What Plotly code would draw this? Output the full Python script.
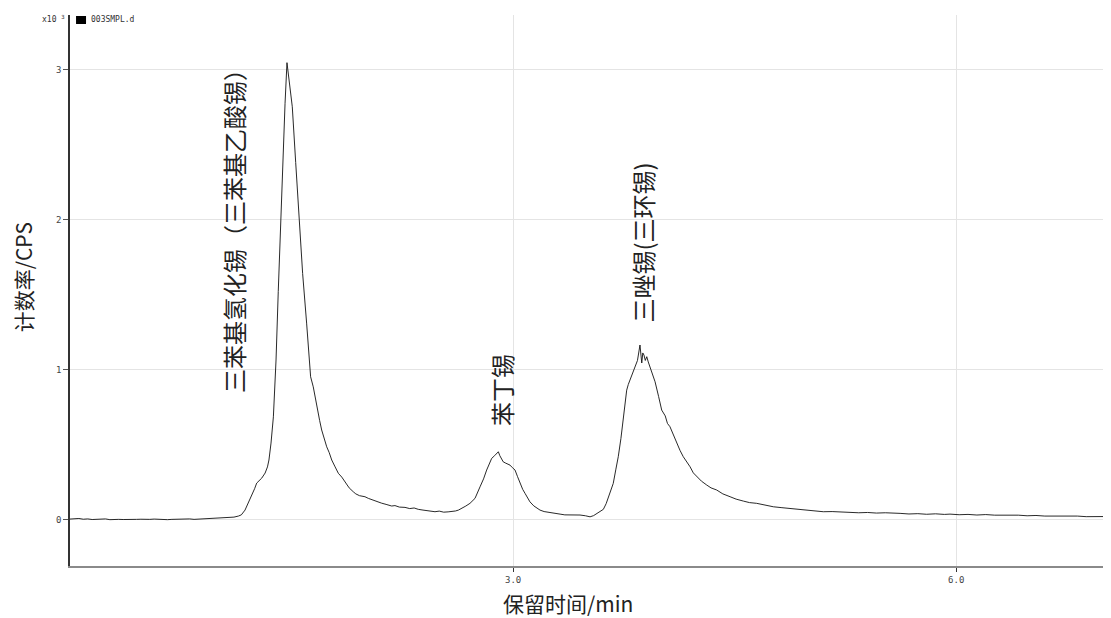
import plotly.graph_objects as go

# Retention time (min) and count rate (CPS)
time_min = [
    0.00, 0.03, 0.06, 0.09, 0.12, 0.15, 0.18, 0.21, 0.24, 0.27, 0.30, 0.33, 0.36, 0.39, 0.42,
    0.45, 0.48, 0.51, 0.54, 0.57, 0.60, 0.63, 0.66, 0.69, 0.72, 0.75, 0.78, 0.81, 0.84, 0.87,
    0.90, 0.93, 0.96, 0.99, 1.02, 1.05, 1.08, 1.11, 1.14, 1.16,
    1.185, 1.207, 1.230, 1.250, 1.264, 1.282, 1.298, 1.321, 1.337, 1.347, 1.361, 1.377, 1.388,
    1.395, 1.410, 1.426, 1.440, 1.456, 1.469, 1.488, 1.505, 1.528, 1.550, 1.575, 1.602, 1.629,
    1.647, 1.662, 1.676, 1.690, 1.704, 1.721, 1.738, 1.755, 1.772, 1.795, 1.817, 1.840, 1.862,
    1.890, 1.918, 1.935, 1.960, 1.997,
    2.02, 2.05, 2.087, 2.11, 2.14, 2.178, 2.20, 2.23, 2.268, 2.30, 2.33, 2.358, 2.39, 2.42, 2.45,
    2.471, 2.50, 2.53, 2.56, 2.584, 2.61, 2.63, 2.652, 2.68, 2.708, 2.742, 2.776, 2.80, 2.821,
    2.840, 2.855, 2.875, 2.890, 2.900, 2.910, 2.920, 2.933, 2.950, 2.965, 2.979, 2.995, 3.013,
    3.030, 3.047, 3.065, 3.081, 3.100, 3.114, 3.140, 3.160, 3.182, 3.21, 3.250, 3.28, 3.318,
    3.35, 3.385, 3.42, 3.453, 3.49, 3.521, 3.545, 3.566, 3.590, 3.611, 3.630, 3.645, 3.660,
    3.678, 3.695, 3.712, 3.730, 3.746, 3.758, 3.769, 3.780, 3.791, 3.808, 3.825, 3.842, 3.859,
    3.865, 3.871, 3.878, 3.886, 3.895, 3.905, 3.915, 3.927, 3.945, 3.961, 3.985, 4.006, 4.030,
    4.045, 4.062, 4.085, 4.108, 4.130, 4.152, 4.175, 4.198, 4.220, 4.243, 4.275, 4.311, 4.340,
    4.378, 4.420, 4.469, 4.51, 4.559, 4.60, 4.649, 4.70, 4.762, 4.82, 4.875, 4.93, 4.988, 5.04,
    5.100, 5.16, 5.22, 5.281, 5.34, 5.40, 5.46, 5.52, 5.58, 5.620, 5.68, 5.74, 5.80, 5.86, 5.92,
    5.958, 6.02, 6.08, 6.14, 6.20, 6.26, 6.297, 6.36, 6.42, 6.48, 6.54, 6.60, 6.635, 6.70, 6.76,
    6.82, 6.88, 6.94, 7.00, 7.03,
]
counts_cps = [
    2, 4, 6, 1, 3, -1, 2, 0, 3, -2, 1, 0, -1, 1, -2,
    0, 1, -1, 0, 2, -1, 1, -2, 0, 2, -1, 1, 3, 0, 2,
    5, 3, 7, 11, 9, 13, 12, 15, 22, 30,
    62, 109, 151, 205, 242, 262, 275, 309, 350, 396, 509, 684, 884,
    1063, 1520, 1996, 2390, 2775, 3046, 2880, 2752, 2380, 1996, 1640, 1309, 951,
    884, 800, 729, 660, 596, 530, 484, 445, 396, 350, 307, 282, 251,
    210, 184, 170, 158, 151,
    140, 128, 117, 108, 100, 89, 92, 82, 80, 72, 76, 67, 62, 58, 53,
    51, 55, 48, 50, 51, 56, 62, 73, 89, 107, 140, 217, 270, 329,
    370, 407, 425, 440, 451, 425, 410, 384, 375, 370, 362, 345, 329,
    285, 240, 200, 173, 140, 117, 90, 75, 62, 52, 44, 38, 35,
    30, 29, 32, 29, 24, 17, 25, 40, 52, 67, 105, 151, 195,
    240, 330, 418, 540, 662, 770, 862, 900, 929, 970, 1007, 1060, 1163,
    1080, 1043, 1110, 1096, 1060, 1085, 1050, 1018, 970, 918, 820, 729, 690,
    640, 618, 560, 507, 460, 418, 385, 351, 310, 284, 255, 229, 210,
    196, 170, 151, 135, 122, 112, 107, 95, 84, 78, 73, 66, 62, 55,
    51, 52, 49, 50, 44, 46, 42, 44, 39, 40, 36, 38, 34, 37, 33,
    35, 31, 33, 29, 32, 28, 29, 26, 28, 24, 26, 22, 22, 24, 20,
    22, 18, 20, 17, 19,
]

y_tick_vals = [0, 1000, 2000, 3000]
y_tick_text = ["0", "1", "2", "3"]
x_tick_vals = [3.0, 6.0]
x_tick_text = ["3.0", "6.0"]

peak_labels = ["三苯基氢化锡（三苯基乙酸锡）", "苯丁锡", "三唑锡(三环锡)"]
peak_label_x = [1.104, 2.918, 3.879]
peak_label_y = [1963, 862, 1846]

series_name = "003SMPL.d"
x_title = "保留时间/min"
y_title = "计数率/CPS"

CJK = "Noto Sans CJK SC"
SMALL = "DejaVu Sans Mono"

fig = go.Figure()
fig.add_trace(go.Scatter(
    x=time_min, y=counts_cps, mode="lines",
    line=dict(color="#111111", width=0.9),
    name=series_name, showlegend=False, hoverinfo="skip",
))

for txt, lx, ly in zip(peak_labels, peak_label_x, peak_label_y):
    fig.add_annotation(
        x=lx, y=ly, xref="x", yref="y", text=txt, showarrow=False,
        textangle=-90, font=dict(family=CJK, size=24, color="#222222"),
        xanchor="center", yanchor="middle",
    )

# axis titles
fig.add_annotation(
    x=0, y=0.524, xref="paper", yref="paper", text=y_title, showarrow=False,
    textangle=-90, xshift=-47, font=dict(family=CJK, size=21, color="#222222"),
    xanchor="center", yanchor="middle",
)
fig.add_annotation(
    x=0.478, y=0, xref="paper", yref="paper", text=x_title, showarrow=False,
    yshift=-37, font=dict(family=CJK, size=21, color="#222222"),
    xanchor="center", yanchor="middle",
)

# scale factor label
fig.add_annotation(
    x=0, y=1, xref="paper", yref="paper",
    text="x10 <sup>3</sup>",
    showarrow=False, xshift=-17, yshift=-4,
    font=dict(family=SMALL, size=8, color="#333333"),
    xanchor="center", yanchor="middle",
)

# legend swatch and name
fig.add_shape(type="rect", xref="paper", yref="paper",
              x0=0.0058, x1=0.0154, y0=0.9837, y1=0.9982,
              fillcolor="#000000", line=dict(width=0))
fig.add_annotation(
    x=0.018, y=0.991, xref="paper", yref="paper", text=series_name,
    showarrow=False, font=dict(family=SMALL, size=8, color="#333333"),
    xanchor="left", yanchor="middle",
)

fig.update_layout(
    width=1103, height=610,
    margin=dict(l=62, r=0, t=7, b=52),
    paper_bgcolor="white", plot_bgcolor="white",
    xaxis=dict(
        range=[0, 7.048], tickvals=x_tick_vals, ticktext=x_tick_text,
        showgrid=True, gridcolor="#e4e4e4", gridwidth=1, zeroline=False,
        showline=True, linecolor="#8a8a8a", linewidth=2,
        ticks="outside", ticklen=4, tickcolor="#333333", tickwidth=1,
        tickfont=dict(family=SMALL, size=9, color="#444444"),
    ),
    yaxis=dict(
        range=[-311, 3364], tickvals=y_tick_vals, ticktext=y_tick_text,
        showgrid=True, gridcolor="#e4e4e4", gridwidth=1, zeroline=False,
        showline=True, linecolor="#333333", linewidth=1.5,
        ticks="outside", ticklen=5, tickcolor="#555555", tickwidth=1,
        tickfont=dict(family=SMALL, size=9, color="#444444"),
    ),
)

fig.write_html("out.html")
